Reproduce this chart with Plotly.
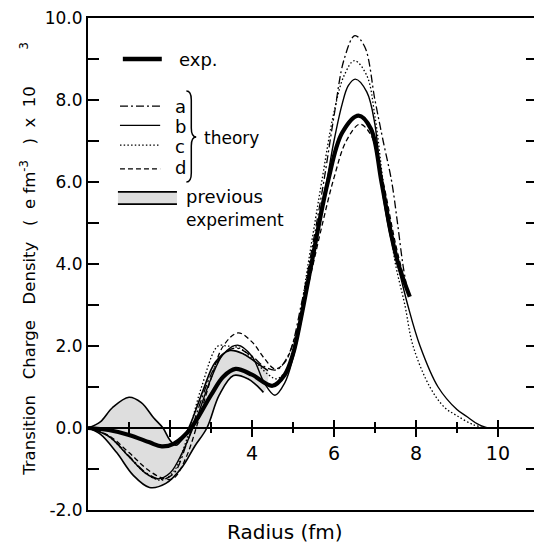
import plotly.graph_objects as go

# ---------------- data ----------------
exp_x = [0, 0.5, 1.0, 1.5, 1.8, 2.1, 2.5, 3.0, 3.3, 3.6, 4.0, 4.5, 4.8, 5.0, 5.2, 5.45, 5.85, 6.2, 6.6, 6.9, 7.16, 7.4, 7.57, 7.85]
exp_y = [0, -0.05, -0.17, -0.35, -0.45, -0.38, -0.02, 0.8, 1.25, 1.44, 1.3, 1.03, 1.3, 1.8, 2.7, 4.0, 6.0, 7.2, 7.62, 7.3, 6.0, 4.7, 4.0, 3.2]

a_x = [0, 0.5, 1.0, 1.4, 1.8, 2.1, 2.4, 2.7, 3.0, 3.3, 3.6, 4.0, 4.3, 4.6, 4.9, 5.2, 5.45, 5.75, 6.0, 6.25, 6.51, 6.75, 7.0, 7.2, 7.41, 7.55, 7.68, 7.8]
a_y = [0, -0.2, -0.68, -1.08, -1.25, -1.1, -0.4, 0.5, 1.3, 1.8, 1.95, 1.75, 1.5, 1.42, 1.8, 3.0, 4.3, 6.0, 7.6, 9.0, 9.57, 9.3, 8.0, 7.0, 6.0, 5.0, 4.0, 3.3]

b_x = [0, 0.5, 1.0, 1.4, 1.7, 2.0, 2.3, 2.6, 3.0, 3.3, 3.65, 4.0, 4.3, 4.56, 4.8, 5.0, 5.2, 5.45, 5.65, 5.82, 6.0, 6.2, 6.35, 6.52, 6.8, 7.0, 7.15, 7.35, 7.55, 7.8, 8.1, 8.54, 9.0, 9.24, 9.5, 9.75]
b_y = [0, -0.2, -0.7, -1.1, -1.24, -1.1, -0.6, 0.1, 1.2, 1.8, 2.02, 1.75, 1.1, 0.8, 1.1, 1.7, 2.6, 4.0, 5.2, 6.0, 7.0, 7.9, 8.35, 8.51, 8.2, 7.4, 6.0, 4.8, 4.0, 3.0, 2.0, 1.0, 0.45, 0.28, 0.1, 0]

c_x = [0, 0.5, 1.0, 1.4, 1.8, 2.1, 2.4, 2.77, 3.17, 3.4, 3.7, 4.0, 4.4, 4.6, 4.8, 5.0, 5.2, 5.37, 5.55, 5.7, 6.0, 6.25, 6.5, 6.8, 7.0, 7.2, 7.35, 7.5, 7.73, 7.93, 8.34, 8.7, 9.0, 9.4, 9.7]
c_y = [0, -0.2, -0.7, -1.1, -1.27, -1.05, -0.3, 1.0, 2.0, 2.0, 1.95, 1.7, 1.3, 1.2, 1.35, 1.75, 2.9, 4.0, 5.1, 6.0, 7.7, 8.6, 8.96, 8.6, 7.6, 6.0, 5.0, 4.0, 3.0, 2.0, 1.0, 0.5, 0.3, 0.08, 0]

d_x = [0, 0.5, 1.0, 1.5, 1.9, 2.1, 2.4, 2.7, 3.0, 3.3, 3.66, 4.0, 4.3, 4.56, 4.8, 5.1, 5.4, 5.7, 6.0, 6.3, 6.63, 6.9, 7.2, 7.5, 7.8]
d_y = [0, -0.18, -0.6, -1.05, -1.25, -1.22, -0.7, 0.2, 1.2, 2.0, 2.32, 2.1, 1.7, 1.44, 1.6, 2.4, 3.6, 4.9, 6.1, 7.0, 7.41, 7.15, 6.0, 4.5, 3.3]

band_up_x = [0, 0.3, 0.6, 1.0, 1.3, 1.6, 1.83, 2.0, 2.15, 2.35, 2.5, 2.8, 3.1, 3.46, 3.8, 4.1, 4.39]
band_up_y = [0, 0.15, 0.5, 0.75, 0.62, 0.25, 0, -0.3, -0.42, -0.2, 0.1, 0.9, 1.6, 1.89, 1.8, 1.6, 1.4]
band_lo_x = [0, 0.3, 0.7, 1.1, 1.5, 1.9, 2.3, 2.6, 2.9, 3.2, 3.55, 3.9, 4.1, 4.28]
band_lo_y = [0, -0.15, -0.6, -1.15, -1.45, -1.35, -0.95, -0.45, 0, 0.8, 1.28, 1.2, 1.05, 0.87]

x_major = [2, 4, 6, 8, 10]
x_major_text = ["", "4", "6", "8", "10"]
x_minor = [1, 3, 5, 7, 9]
y_ticks = list(range(-2, 11))
y_tick_text = ["-2.0", "", "0.0", "", "2.0", "", "4.0", "", "6.0", "", "8.0", "", "10.0"]

# ---------------- figure ----------------
FONT = "DejaVu Sans"
GRAY = "rgb(222,222,222)"
BLK = "black"
XR = [0, 10.88]
YR = [-2, 10]
NB = "\u00a0"

fig = go.Figure()

# previous experiment band
fig.add_trace(go.Scatter(x=band_up_x + band_lo_x[::-1], y=band_up_y + band_lo_y[::-1],
                         mode="lines", fill="toself", fillcolor=GRAY,
                         line=dict(width=0, shape="spline"), hoverinfo="skip"))
for bx, by in [(band_up_x, band_up_y), (band_lo_x, band_lo_y)]:
    fig.add_trace(go.Scatter(x=bx, y=by, mode="lines",
                             line=dict(color=BLK, width=1.6, shape="spline"), hoverinfo="skip"))

# theory curves
fig.add_trace(go.Scatter(x=a_x, y=a_y, mode="lines",
                         line=dict(color=BLK, width=1.3, dash="8px,3px,2px,3px", shape="spline")))
fig.add_trace(go.Scatter(x=b_x, y=b_y, mode="lines",
                         line=dict(color=BLK, width=1.4, shape="spline")))
fig.add_trace(go.Scatter(x=c_x, y=c_y, mode="lines",
                         line=dict(color=BLK, width=1.3, dash="1.5px,2.2px", shape="spline")))
fig.add_trace(go.Scatter(x=d_x, y=d_y, mode="lines",
                         line=dict(color=BLK, width=1.3, dash="5px,3px", shape="spline")))
# experiment
fig.add_trace(go.Scatter(x=exp_x, y=exp_y, mode="lines",
                         line=dict(color=BLK, width=4.2, shape="spline")))

# dummy traces for overlay axes
fig.add_trace(go.Scatter(x=[None], y=[None], xaxis="x2", yaxis="y", hoverinfo="skip"))
fig.add_trace(go.Scatter(x=[None], y=[None], xaxis="x3", yaxis="y", hoverinfo="skip"))
fig.add_trace(go.Scatter(x=[None], y=[None], xaxis="x", yaxis="y2", hoverinfo="skip"))

# ---------------- legend (drawn) ----------------
shapes = []
def seg(x0, x1, y, width, dash="solid"):
    shapes.append(dict(type="line", xref="x", yref="y", x0=x0, x1=x1, y0=y, y1=y,
                       line=dict(color=BLK, width=width, dash=dash)))
seg(0.85, 1.80, 9.0, 4.5)
seg(0.78, 1.76, 7.85, 1.3, "8px,3px,2px,3px")
seg(0.78, 1.76, 7.38, 1.4)
seg(0.78, 1.76, 6.9, 1.3, "1.5px,2.2px")
seg(0.78, 1.76, 6.32, 1.3, "5px,3px")
shapes.append(dict(type="rect", xref="x", yref="y", x0=0.73, x1=2.17, y0=5.46, y1=5.76,
                   fillcolor=GRAY, line=dict(width=0), layer="below"))
seg(0.73, 2.17, 5.76, 1.6)
seg(0.73, 2.17, 5.46, 1.6)
# brace
shapes.append(dict(type="path", xref="x", yref="y",
                   path="M 2.40,8.22 Q 2.52,8.22 2.52,8.0 L 2.52,7.32 Q 2.52,7.1 2.64,7.1 "
                        "Q 2.52,7.1 2.52,6.88 L 2.52,6.22 Q 2.52,6.0 2.40,6.0",
                   line=dict(color=BLK, width=1.5)))

ann = []
def txt(x, y, s, size=18):
    ann.append(dict(x=x, y=y, xref="x", yref="y", text=s, showarrow=False,
                    xanchor="left", yanchor="middle", font=dict(family=FONT, size=size, color=BLK)))
txt(2.18, 8.98, "exp.")
txt(2.08, 7.84, "a")
txt(2.08, 7.36, "b")
txt(2.08, 6.86, "c")
txt(2.08, 6.36, "d")
txt(2.78, 7.08, "theory", 17)
txt(2.35, 5.64, "previous", 18)
txt(2.35, 5.08, "experiment", 17)

# axis titles
ytitle = ("Transition" + NB * 3 + "Charge" + NB * 3 + "Density" + NB * 3 + "(" + NB * 2 + "e" + NB
          + "fm<sup>-3</sup>" + NB * 3 + ")" + NB * 2 + "x" + NB * 2 + "10" + NB * 7 + "<sup>3</sup>")
ann.append(dict(xref="paper", yref="paper", x=-0.135, y=0.51, xanchor="center", yanchor="middle",
                textangle=-90, showarrow=False, text=ytitle,
                font=dict(family=FONT, size=16.5, color=BLK)))
ann.append(dict(xref="paper", yref="paper", x=(285 - 88) / 446, y=-0.045, xanchor="center", yanchor="middle",
                showarrow=False, text="Radius" + NB + "(fm)", font=dict(family=FONT, size=20, color=BLK)))

fig.update_layout(
    width=534, height=544,
    margin=dict(l=88, r=0, t=18, b=34),
    paper_bgcolor="white", plot_bgcolor="white",
    showlegend=False,
    shapes=shapes, annotations=ann,
    xaxis=dict(range=XR, showgrid=False, zeroline=False, showline=True, mirror=True,
               linecolor=BLK, linewidth=2, ticks="", showticklabels=False),
    xaxis2=dict(range=XR, overlaying="x", anchor="free", position=1/6, showgrid=False, zeroline=False,
                showline=True, linecolor=BLK, linewidth=1.5,
                tickmode="array", tickvals=x_major, ticktext=x_major_text,
                ticks="outside", ticklen=8, tickwidth=1.5, tickcolor=BLK,
                minor=dict(tickmode="array", tickvals=x_minor, ticks="outside", ticklen=4,
                           tickwidth=1.5, tickcolor=BLK),
                tickfont=dict(family=FONT, size=19, color=BLK)),
    xaxis3=dict(range=XR, overlaying="x", anchor="free", position=1/6, showgrid=False, zeroline=False,
                showline=False, tickmode="array", tickvals=x_major, ticks="inside", ticklen=8,
                tickwidth=1.5, tickcolor=BLK, showticklabels=False,
                minor=dict(tickmode="array", tickvals=x_minor, ticks="inside", ticklen=6,
                           tickwidth=1.5, tickcolor=BLK)),
    yaxis=dict(range=YR, showgrid=False, zeroline=False, showline=True, linecolor=BLK, linewidth=2,
               tickmode="array", tickvals=y_ticks, ticktext=y_tick_text,
               ticks="inside", ticklen=11, tickwidth=1.5, tickcolor=BLK,
               tickfont=dict(family=FONT, size=17, color=BLK)),
    yaxis2=dict(range=YR, overlaying="y", side="right", anchor="x", showgrid=False, zeroline=False,
                showline=False, tickmode="array", tickvals=y_ticks, ticks="inside", ticklen=8,
                tickwidth=1.5, tickcolor=BLK, showticklabels=False),
)

fig.write_html("out.html", config={"displayModeBar": False},
               post_script="document.body.style.margin='0';document.body.style.padding='0';")
